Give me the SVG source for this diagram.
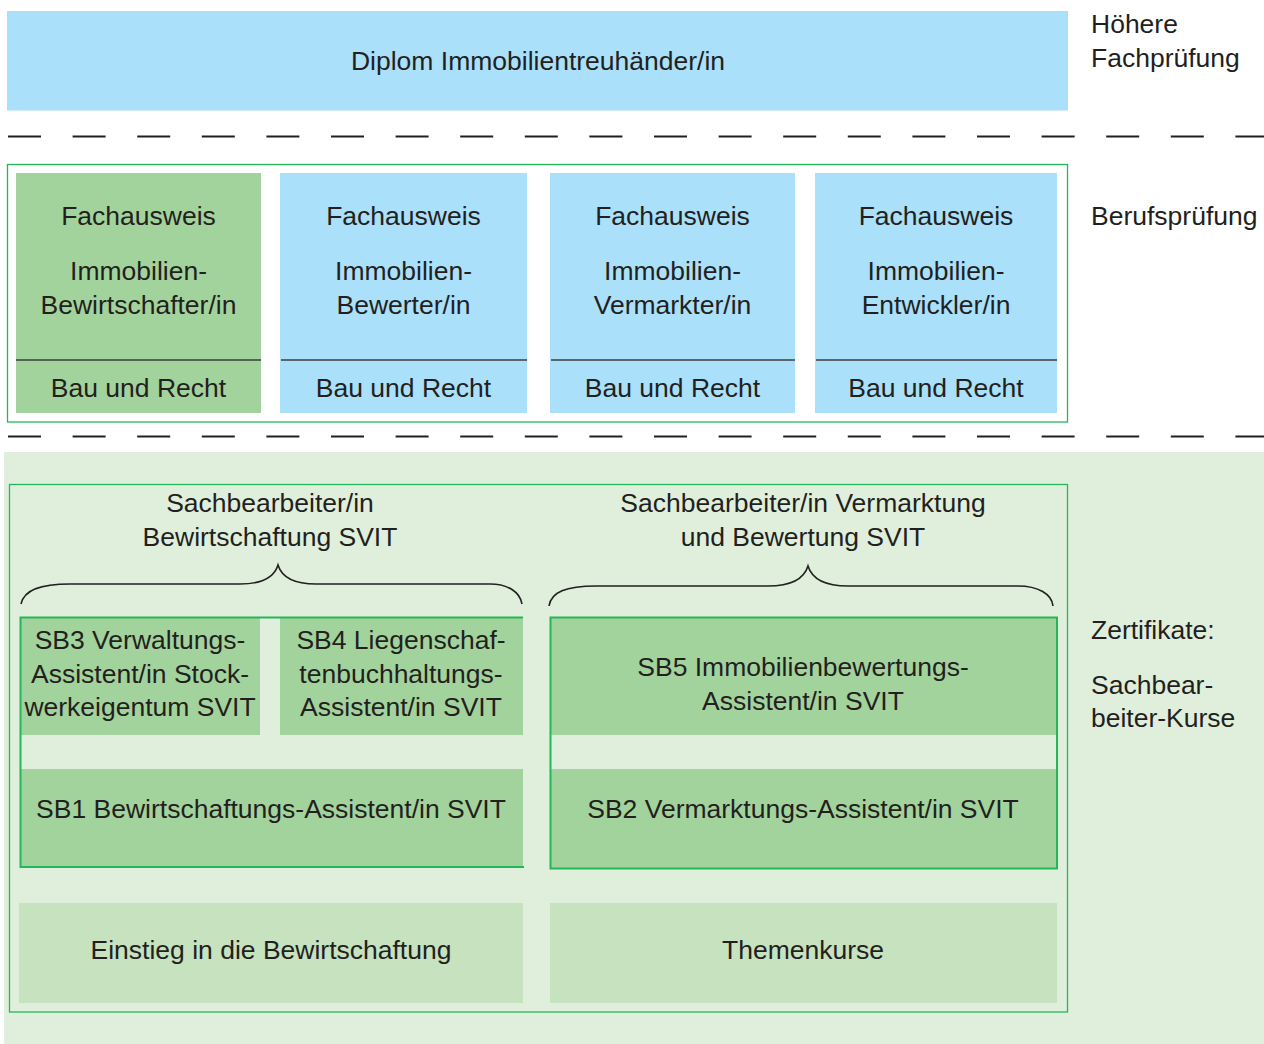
<svg xmlns="http://www.w3.org/2000/svg" width="1264" height="1044" viewBox="0 0 1264 1044">
<style>
text{font-family:"Liberation Sans",Arial,sans-serif;font-size:26.5px;fill:#231f20}
.c{text-anchor:middle}
.blue{fill:#aae0fa}
.g{fill:#a3d39c}
.lg{fill:#c6e2bf}
.bg{fill:#e0efdc}
.ol{fill:none;stroke:#22b859;stroke-width:1.3}
.ol2{fill:none;stroke:#22b859;stroke-width:2}
.dash{stroke:#231f20;stroke-width:2.2;stroke-dasharray:33 31.6}
.div{stroke:#3c3c3c;stroke-width:1.5}
.brace{fill:none;stroke:#231f20;stroke-width:1.6}
</style>
<rect width="1264" height="1044" fill="#ffffff"/>
<g id="levels">
<rect class="bg" x="4" y="452" width="1260" height="592"/>
<line class="dash" x1="8" y1="136.5" x2="1264" y2="136.5"/>
<line class="dash" x1="8" y1="436.5" x2="1264" y2="436.5"/>
<text x="1091" y="33">Höhere</text>
<text x="1091" y="67">Fachprüfung</text>
<text x="1091" y="225">Berufsprüfung</text>
<text x="1091" y="639">Zertifikate:</text>
<text x="1091" y="694">Sachbear-</text>
<text x="1091" y="727">beiter-Kurse</text>
</g>
<g id="diplom">
<rect class="blue" x="7" y="11" width="1061" height="99.5"/>
<text class="c" x="538" y="70">Diplom Immobilientreuhänder/in</text>
</g>
<g id="berufspruefung">
<rect class="ol" x="7.5" y="164.5" width="1060" height="257.5"/>
</g>
<g id="fa1">
<rect class="g" x="16" y="173" width="245" height="240"/>
<line class="div" x1="16" y1="360" x2="261" y2="360"/>
<text class="c" x="138.5" y="225">Fachausweis</text>
<text class="c" x="138.5" y="280">Immobilien-</text>
<text class="c" x="138.5" y="314">Bewirtschafter/in</text>
<text class="c" x="138.5" y="397">Bau und Recht</text>
</g>
<g id="fa2">
<rect class="blue" x="280" y="173" width="247" height="240"/>
<line class="div" x1="281" y1="360" x2="527" y2="360"/>
<text class="c" x="403.5" y="225">Fachausweis</text>
<text class="c" x="403.5" y="280">Immobilien-</text>
<text class="c" x="403.5" y="314">Bewerter/in</text>
<text class="c" x="403.5" y="397">Bau und Recht</text>
</g>
<g id="fa3">
<rect class="blue" x="550" y="173" width="245" height="240"/>
<line class="div" x1="551" y1="360" x2="795" y2="360"/>
<text class="c" x="672.5" y="225">Fachausweis</text>
<text class="c" x="672.5" y="280">Immobilien-</text>
<text class="c" x="672.5" y="314">Vermarkter/in</text>
<text class="c" x="672.5" y="397">Bau und Recht</text>
</g>
<g id="fa4">
<rect class="blue" x="815" y="173" width="242" height="240"/>
<line class="div" x1="816" y1="360" x2="1057" y2="360"/>
<text class="c" x="936" y="225">Fachausweis</text>
<text class="c" x="936" y="280">Immobilien-</text>
<text class="c" x="936" y="314">Entwickler/in</text>
<text class="c" x="936" y="397">Bau und Recht</text>
</g>
<g id="zertifikate">
<rect class="ol" x="9.5" y="484.5" width="1058" height="527.5"/>
</g>
<g id="group-bewirtschaftung">
<text class="c" x="270" y="512">Sachbearbeiter/in</text>
<text class="c" x="270" y="546">Bewirtschaftung SVIT</text>
<path class="brace" d="M21,604 C24,590 40,584 70,584 L240,584 C262,584 274,578 278,565 C282,578 294,584 316,584 L490,584 C508,584 520,592 522,604"/>
</g>
<g id="group-vermarktung">
<text class="c" x="803" y="512">Sachbearbeiter/in Vermarktung</text>
<text class="c" x="803" y="546">und Bewertung SVIT</text>
<path class="brace" d="M549,606 C551,592 566,586 596,586 L768,586 C792,586 804,579 808,566 C812,579 824,586 848,586 L1018,586 C1038,586 1052,594 1053,606"/>
</g>
<g id="sb3">
<rect class="g" x="20" y="617" width="240" height="118"/>
<text class="c" x="140" y="649">SB3 Verwaltungs-</text>
<text class="c" x="140" y="683">Assistent/in Stock-</text>
<text class="c" x="140" y="716">werkeigentum SVIT</text>
</g>
<g id="sb4">
<rect class="g" x="280" y="617" width="243" height="118"/>
<text class="c" x="401" y="649">SB4 Liegenschaf-</text>
<text class="c" x="401" y="683">tenbuchhaltungs-</text>
<text class="c" x="401" y="716">Assistent/in SVIT</text>
</g>
<g id="sb1">
<rect class="g" x="20" y="769" width="503" height="98"/>
<text class="c" x="271" y="818">SB1 Bewirtschaftungs-Assistent/in SVIT</text>
</g>
<g id="sb5">
<rect class="g" x="550" y="617" width="507" height="118"/>
<text class="c" x="803" y="676">SB5 Immobilienbewertungs-</text>
<text class="c" x="803" y="710">Assistent/in SVIT</text>
</g>
<g id="sb2">
<rect class="g" x="550" y="769" width="507" height="99"/>
<text class="c" x="803" y="818">SB2 Vermarktungs-Assistent/in SVIT</text>
</g>
<g id="einstieg">
<rect class="lg" x="19" y="903" width="504" height="100"/>
<text class="c" x="271" y="959">Einstieg in die Bewirtschaftung</text>
</g>
<g id="themenkurse">
<rect class="lg" x="550" y="903" width="507" height="100"/>
<text class="c" x="803" y="959">Themenkurse</text>
</g>
<g id="connectors">
<polyline class="ol2" points="523,617.5 20.5,617.5 20.5,867 524,867"/>
<rect class="ol2" x="550.5" y="617.5" width="506.5" height="251"/>
</g>
</svg>
